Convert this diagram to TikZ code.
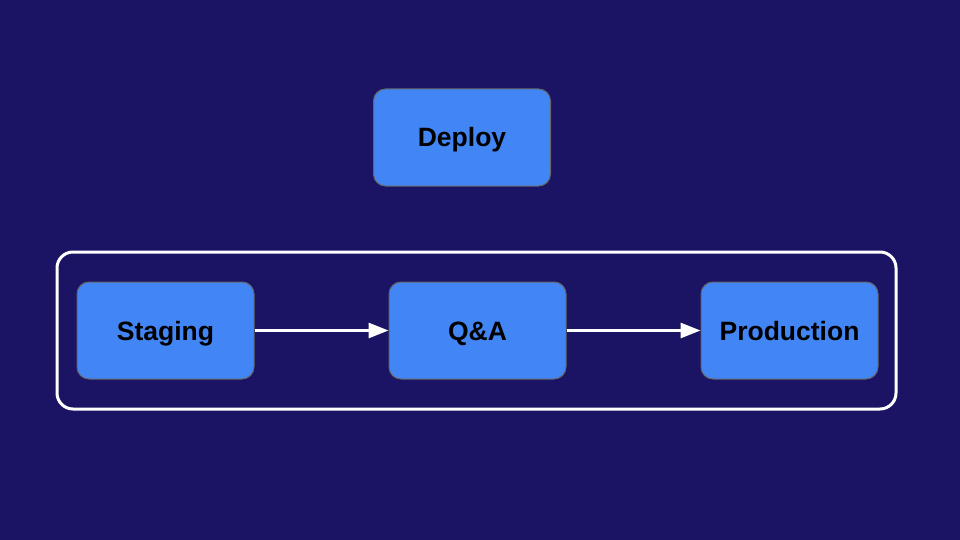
\documentclass[tikz,border=0pt]{standalone}
\usepackage{fontspec}
\setmainfont{Liberation Sans}
\usetikzlibrary{arrows.meta}
\definecolor{bgc}{HTML}{1B1464}
\definecolor{boxc}{HTML}{4285F4}
\definecolor{edgec}{HTML}{666666}
\begin{document}
\begin{tikzpicture}[x=1pt,y=-1pt,
  stagebox/.style={draw=edgec,line width=1pt,fill=boxc,rounded corners=12pt,minimum width=177pt,minimum height=97pt,inner sep=0pt,text height=19pt,text depth=0pt,font=\fontsize{26.5}{30}\selectfont\bfseries,text=black},
  flow/.style={draw=white,line width=3pt,-{Triangle[length=20pt,width=15pt]}}]
\fill[bgc] (0,0) rectangle (960,540);
\useasboundingbox (0,0) rectangle (960,540);
\node[stagebox] (deploy) at (462,137.5) {Deploy};
\draw[white,line width=3pt,rounded corners=16pt] (57,252) rectangle (896,409);
\node[stagebox] (staging) at (165.5,330.5) {Staging};
\node[stagebox] (qa) at (477.5,330.5) {Q\&A};
\node[stagebox] (prod) at (789.5,330.5) {Production};
\draw[flow] (staging) -- (qa);
\draw[flow] (qa) -- (prod);
\end{tikzpicture}
\end{document}
